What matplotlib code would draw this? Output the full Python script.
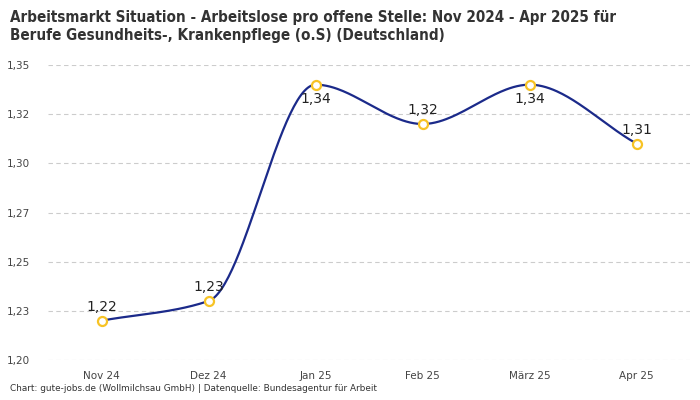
import numpy as np
import matplotlib.pyplot as plt
from matplotlib.ticker import FuncFormatter

# Data
months = ["Nov 24", "Dez 24", "Jan 25", "Feb 25", "März 25", "Apr 25"]
values = [1.22, 1.23, 1.34, 1.32, 1.34, 1.31]
labels = ["1,22", "1,23", "1,34", "1,32", "1,34", "1,31"]
label_above = [True, True, False, True, False, True]
yticks = [1.200, 1.225, 1.250, 1.275, 1.300, 1.325, 1.350]


def monotone_curve(x, y, n=60):
    # Fritsch-Carlson monotone cubic for a smooth line through the points
    x = np.asarray(x, float)
    y = np.asarray(y, float)
    h = np.diff(x)
    d = np.diff(y) / h
    m = np.zeros_like(y)
    m[0], m[-1] = d[0], d[-1]
    for i in range(1, len(y) - 1):
        if d[i - 1] * d[i] <= 0:
            m[i] = 0
        else:
            m[i] = 2 / (1 / d[i - 1] + 1 / d[i])
    xs, ys = [], []
    for i in range(len(x) - 1):
        t = np.linspace(0, 1, n)
        h00 = 2 * t**3 - 3 * t**2 + 1
        h10 = t**3 - 2 * t**2 + t
        h01 = -2 * t**3 + 3 * t**2
        h11 = t**3 - t**2
        xs.append(x[i] + t * h[i])
        ys.append(h00 * y[i] + h10 * h[i] * m[i] + h01 * y[i + 1] + h11 * h[i] * m[i + 1])
    return np.concatenate(xs), np.concatenate(ys)


x = np.arange(len(months))
cx, cy = monotone_curve(x, values)

fig = plt.figure(figsize=(7, 4), dpi=100)
ax = fig.add_axes([0.0686, 0.1, 0.9174, 0.7375])

ax.plot(cx, cy, color="#1b2a8a", lw=1.6, zorder=2)
ax.plot(x, values, "o", ms=6.5, mfc="white", mec="#f7c325", mew=1.6, zorder=3)

for xi, v, lab, up in zip(x, values, labels, label_above):
    off = 5 if up else -5
    ax.annotate(lab, (xi, v), xytext=(0, off), textcoords="offset points",
                ha="center", va="bottom" if up else "top",
                fontsize=10, color="#222222", family="DejaVu Sans")

ax.set_xlim(-0.5, len(months) - 0.5)
ax.set_ylim(1.2, 1.35)
ax.set_xticks(x)
ax.set_xticklabels(months, va="baseline")
ax.set_yticks(yticks)
ax.yaxis.set_major_formatter(FuncFormatter(lambda v, p: f"{v:.2f}".replace(".", ",")))
ax.tick_params(axis="both", length=0, labelsize=7.5, labelcolor="#444444")
ax.tick_params(axis="x", pad=14)
ax.tick_params(axis="y", pad=13)
ax.grid(axis="y", color="#cccccc", linestyle=(0, (4, 3)), lw=0.8)
for s in ax.spines.values():
    s.set_visible(False)

fig.text(0.014, 0.975, "Arbeitsmarkt Situation - Arbeitslose pro offene Stelle: Nov 2024 - Apr 2025 für\n"
         "Berufe Gesundheits-, Krankenpflege (o.S) (Deutschland)",
         ha="left", va="top", fontsize=10.9, fontweight="bold", color="#333333",
         family="DejaVu Sans", fontstretch="condensed", linespacing=1.25)
fig.text(0.014, 0.017, "Chart: gute-jobs.de (Wollmilchsau GmbH) | Datenquelle: Bundesagentur für Arbeit",
         ha="left", va="bottom", fontsize=6.4, color="#333333")

fig.savefig("out.png", dpi=100)
